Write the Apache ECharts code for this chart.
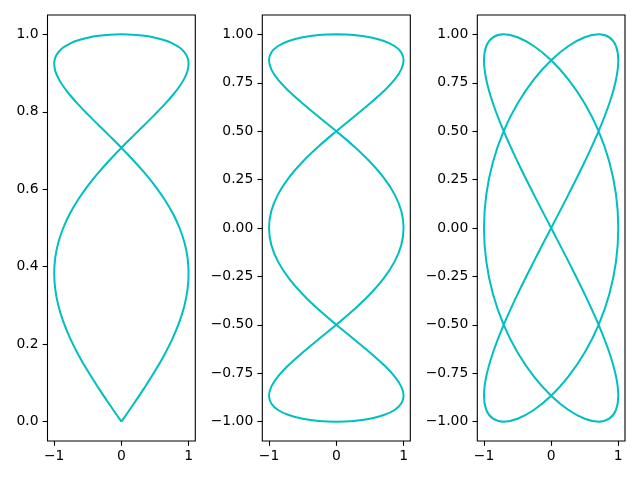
<!DOCTYPE html>
<html>
<head>
<meta charset="utf-8">
<script src="https://cdn.jsdelivr.net/npm/echarts@6/dist/echarts.min.js"></script>
<style>html,body{margin:0;padding:0;background:#fff}#c{width:640px;height:480px}</style>
</head>
<body>
<div id="c"></div>
<script>
// Panel 1 curve points
const p1x = [0, 0.1736, 0.342, 0.5, 0.6428, 0.766, 0.866, 0.9397, 0.9848, 1, 0.9848, 0.9397, 0.866, 0.766, 0.6428, 0.5, 0.342, 0.1736, 0,
 -0.1736, -0.342, -0.5, -0.6428, -0.766, -0.866, -0.9397, -0.9848, -1, -0.9848, -0.9397, -0.866, -0.766, -0.6428, -0.5, -0.342, -0.1736, 0,
 0.1736, 0.342, 0.5, 0.6428, 0.766, 0.866, 0.9397, 0.9848, 1, 0.9848, 0.9397, 0.866, 0.766, 0.6428, 0.5, 0.342, 0.1736, 0,
 -0.1736, -0.342, -0.5, -0.6428, -0.766, -0.866, -0.9397, -0.9848, -1, -0.9848, -0.9397, -0.866, -0.766, -0.6428, -0.5, -0.342, -0.1736, 0];
const p1y = [0, 0.0436, 0.0872, 0.1305, 0.1736, 0.2164, 0.2588, 0.3007, 0.342, 0.3827, 0.4226, 0.4617, 0.5, 0.5373, 0.5736, 0.6088, 0.6428, 0.6756, 0.7071,
 0.7373, 0.766, 0.7934, 0.8192, 0.8434, 0.866, 0.887, 0.9063, 0.9239, 0.9397, 0.9537, 0.9659, 0.9763, 0.9848, 0.9914, 0.9962, 0.999, 1,
 0.999, 0.9962, 0.9914, 0.9848, 0.9763, 0.9659, 0.9537, 0.9397, 0.9239, 0.9063, 0.887, 0.866, 0.8434, 0.8192, 0.7934, 0.766, 0.7373, 0.7071,
 0.6756, 0.6428, 0.6088, 0.5736, 0.5373, 0.5, 0.4617, 0.4226, 0.3827, 0.342, 0.3007, 0.2588, 0.2164, 0.1736, 0.1305, 0.0872, 0.0436, 0];

// Panel 2 curve points
const p2x = [0, 0.2588, 0.5, 0.7071, 0.866, 0.9659, 1, 0.9659, 0.866, 0.7071, 0.5, 0.2588, 0, -0.2588, -0.5, -0.7071, -0.866, -0.9659, -1, -0.9659, -0.866, -0.7071, -0.5, -0.2588,
 0, 0.2588, 0.5, 0.7071, 0.866, 0.9659, 1, 0.9659, 0.866, 0.7071, 0.5, 0.2588, 0, -0.2588, -0.5, -0.7071, -0.866, -0.9659, -1, -0.9659, -0.866, -0.7071, -0.5, -0.2588,
 0, 0.2588, 0.5, 0.7071, 0.866, 0.9659, 1, 0.9659, 0.866, 0.7071, 0.5, 0.2588, 0, -0.2588, -0.5, -0.7071, -0.866, -0.9659, -1, -0.9659, -0.866, -0.7071, -0.5, -0.2588, 0];
const p2y = [1, 0.9962, 0.9848, 0.9659, 0.9397, 0.9063, 0.866, 0.8192, 0.766, 0.7071, 0.6428, 0.5736, 0.5, 0.4226, 0.342, 0.2588, 0.1736, 0.0872, 0,
 -0.0872, -0.1736, -0.2588, -0.342, -0.4226, -0.5, -0.5736, -0.6428, -0.7071, -0.766, -0.8192, -0.866, -0.9063, -0.9397, -0.9659, -0.9848, -0.9962, -1,
 -0.9962, -0.9848, -0.9659, -0.9397, -0.9063, -0.866, -0.8192, -0.766, -0.7071, -0.6428, -0.5736, -0.5, -0.4226, -0.342, -0.2588, -0.1736, -0.0872, 0,
 0.0872, 0.1736, 0.2588, 0.342, 0.4226, 0.5, 0.5736, 0.6428, 0.7071, 0.766, 0.8192, 0.866, 0.9063, 0.9397, 0.9659, 0.9848, 0.9962, 1];

// Panel 3 curve points
const p3x = [0, 0.2588, 0.5, 0.7071, 0.866, 0.9659, 1, 0.9659, 0.866, 0.7071, 0.5, 0.2588, 0, -0.2588, -0.5, -0.7071, -0.866, -0.9659, -1, -0.9659, -0.866, -0.7071, -0.5, -0.2588,
 0, 0.2588, 0.5, 0.7071, 0.866, 0.9659, 1, 0.9659, 0.866, 0.7071, 0.5, 0.2588, 0, -0.2588, -0.5, -0.7071, -0.866, -0.9659, -1, -0.9659, -0.866, -0.7071, -0.5, -0.2588,
 0, 0.2588, 0.5, 0.7071, 0.866, 0.9659, 1, 0.9659, 0.866, 0.7071, 0.5, 0.2588, 0, -0.2588, -0.5, -0.7071, -0.866, -0.9659, -1, -0.9659, -0.866, -0.7071, -0.5, -0.2588, 0];
const p3y = [0, 0.1736, 0.342, 0.5, 0.6428, 0.766, 0.866, 0.9397, 0.9848, 1, 0.9848, 0.9397, 0.866, 0.766, 0.6428, 0.5, 0.342, 0.1736, 0,
 -0.1736, -0.342, -0.5, -0.6428, -0.766, -0.866, -0.9397, -0.9848, -1, -0.9848, -0.9397, -0.866, -0.766, -0.6428, -0.5, -0.342, -0.1736, 0,
 0.1736, 0.342, 0.5, 0.6428, 0.766, 0.866, 0.9397, 0.9848, 1, 0.9848, 0.9397, 0.866, 0.766, 0.6428, 0.5, 0.342, 0.1736, 0,
 -0.1736, -0.342, -0.5, -0.6428, -0.766, -0.866, -0.9397, -0.9848, -1, -0.9848, -0.9397, -0.866, -0.766, -0.6428, -0.5, -0.342, -0.1736, 0];

// Tick values
const xTicks = [-1, 0, 1];
const y1Ticks = [0, 0.2, 0.4, 0.6, 0.8, 1.0];
const y23Ticks = [-1, -0.75, -0.5, -0.25, 0, 0.25, 0.5, 0.75, 1];

const panels = [
  {xs: p1x, ys: p1y, yTicks: y1Ticks, yMin: -0.05, yMax: 1.05, yDec: 1, left: 47.5, width: 147.8},
  {xs: p2x, ys: p2y, yTicks: y23Ticks, yMin: -1.1, yMax: 1.1, yDec: 2, left: 262.3, width: 148},
  {xs: p3x, ys: p3y, yTicks: y23Ticks, yMin: -1.1, yMax: 1.1, yDec: 2, left: 477.3, width: 147.7}
];

function fmt(d) {
  return function (v) { return Number(v).toFixed(d).replace('-', '\u2212'); };
}
const font = {color: '#000', fontFamily: 'DejaVu Sans', fontSize: 13.9};
const tickStyle = {color: '#000', width: 1.1};

const option = {
  animation: false,
  backgroundColor: '#fff',
  grid: panels.map(p => ({left: p.left, top: 15, width: p.width, height: 426, show: true, borderColor: '#000', borderWidth: 1.1, backgroundColor: 'transparent'})),
  xAxis: panels.map((p, i) => ({
    type: 'value', gridIndex: i, min: -1.1, max: 1.1,
    splitLine: {show: false},
    axisLine: {show: false, onZero: false},
    axisTick: {show: true, length: 4.86, lineStyle: tickStyle, customValues: xTicks},
    axisLabel: Object.assign({customValues: xTicks, formatter: fmt(0), margin: 8}, font)
  })),
  yAxis: panels.map((p, i) => ({
    type: 'value', gridIndex: i, min: p.yMin, max: p.yMax,
    splitLine: {show: false},
    axisLine: {show: false, onZero: false},
    axisTick: {show: true, length: 4.86, lineStyle: tickStyle, customValues: p.yTicks},
    axisLabel: Object.assign({customValues: p.yTicks, formatter: fmt(p.yDec), margin: 9}, font)
  })),
  series: panels.map((p, i) => ({
    type: 'line', xAxisIndex: i, yAxisIndex: i,
    data: p.xs.map((x, j) => [x, p.ys[j]]),
    showSymbol: false, smooth: 0.4, silent: true,
    lineStyle: {color: '#00bfbf', width: 2}
  }))
};

const chart = echarts.init(document.getElementById('c'), null, {renderer: 'canvas'});
chart.setOption(option);
</script>
</body>
</html>
